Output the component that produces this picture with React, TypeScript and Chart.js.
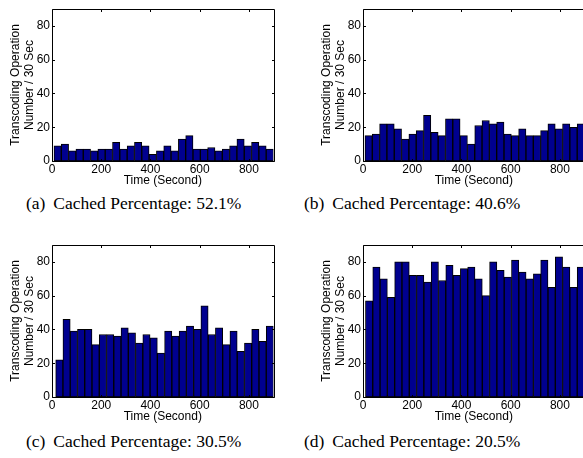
import React, { useEffect, useRef } from 'react';
import { Chart, registerables } from 'chart.js';

Chart.register(...registerables);

// ---- data ----
const panelLabels = ['(a)', '(b)', '(c)', '(d)'];
const cachedPercentages = ['52.1%', '40.6%', '30.5%', '20.5%'];
const binStartSeconds = [8, 8, 15, 10];
const countsA = [9, 10, 6, 7, 7, 6, 7, 7, 11, 7, 9, 11, 9, 4, 6, 9, 6, 13, 15, 7, 7, 8, 6, 7, 9, 13, 9, 11, 9, 7];
const countsB = [15, 16, 22, 22, 19, 13, 16, 18, 27, 17, 15, 25, 25, 15, 10, 21, 24, 22, 23, 16, 15, 19, 15, 15, 18, 22, 19, 22, 20, 22];
const countsC = [22, 46, 39, 40, 40, 31, 37, 37, 36, 41, 38, 32, 37, 35, 26, 39, 36, 39, 42, 40, 54, 37, 41, 31, 39, 27, 32, 40, 33, 42];
const countsD = [57, 77, 70, 59, 80, 80, 72, 72, 68, 80, 69, 78, 72, 76, 77, 70, 60, 80, 75, 71, 81, 74, 70, 73, 81, 65, 83, 77, 65, 77];
const xTicks = [0, 200, 400, 600, 800];
const yTicks = [0, 20, 40, 60, 80];
const xMax = 900;
const yMax = 90;
const xTitle = 'Time (Second)';
const yTitle = ['Transcoding Operation', 'Number / 30 Sec'];
const captionText = 'Cached Percentage:';

const allCounts = [countsA, countsB, countsC, countsD];

const CANVAS_W = 292;
const CANVAS_H = 190;
const panelPos = [
  { left: 0, top: 0 },
  { left: 311, top: 0 },
  { left: 0, top: 236 },
  { left: 311, top: 236 },
];
const captionPos = [
  { left: 26, top: 193 },
  { left: 304, top: 193 },
  { left: 26, top: 431 },
  { left: 304, top: 431 },
];

const sans = '"Liberation Sans", Arial, Helvetica, sans-serif';
const serif = '"Liberation Serif", "Times New Roman", serif';

const framePlugin = {
  id: 'matlabFrame',
  afterDatasetsDraw(chart: any) {
    const { ctx, chartArea, scales } = chart;
    const l = Math.round(chartArea.left) + 0.5;
    const r = Math.round(chartArea.right) + 0.5;
    const t = Math.round(chartArea.top) + 0.5;
    const b = Math.round(chartArea.bottom) + 0.5;
    const tl = 2.5;
    ctx.save();
    ctx.strokeStyle = '#000';
    ctx.lineWidth = 1;
    ctx.beginPath();
    ctx.rect(l, t, r - l, b - t);
    xTicks.forEach((v) => {
      const px = Math.round(scales.x.getPixelForValue(v)) + 0.5;
      ctx.moveTo(px, b);
      ctx.lineTo(px, b - tl);
      ctx.moveTo(px, t);
      ctx.lineTo(px, t + tl);
    });
    yTicks.forEach((v) => {
      const py = Math.round(scales.y.getPixelForValue(v)) + 0.5;
      ctx.moveTo(l, py);
      ctx.lineTo(l + tl, py);
      ctx.moveTo(r, py);
      ctx.lineTo(r - tl, py);
    });
    ctx.stroke();
    ctx.restore();
  },
};

function Panel({ idx }: { idx: number }) {
  const ref = useRef<HTMLCanvasElement | null>(null);
  useEffect(() => {
    if (!ref.current) return;
    const counts = allCounts[idx];
    const start = binStartSeconds[idx];
    const w = (xMax - start) / counts.length;
    const font = { family: sans, size: 12, lineHeight: 14 / 12 };
    const chart = new Chart(ref.current, {
      type: 'bar',
      data: {
        datasets: [
          {
            data: counts.map((y, i) => ({ x: start + (i + 0.5) * w, y })),
            backgroundColor: '#00008F',
            borderColor: '#000000',
            borderWidth: 1,
            borderSkipped: false,
            barPercentage: 1,
            categoryPercentage: 1,
          } as any,
        ],
      },
      options: {
        animation: false,
        responsive: false,
        maintainAspectRatio: false,
        layout: { padding: { left: 0, top: 9, right: 18.5, bottom: 0 } },
        plugins: { legend: { display: false }, tooltip: { enabled: false } },
        scales: {
          x: {
            type: 'linear',
            min: 0,
            max: xMax,
            offset: false,
            grid: { display: false, drawTicks: false },
            border: { display: false },
            afterBuildTicks: (s: any) => {
              s.ticks = xTicks.map((v) => ({ value: v }));
            },
            afterFit: (s: any) => {
              s.height = 29;
            },
            ticks: { font, color: '#000', padding: 2, maxRotation: 0, autoSkip: false },
            title: { display: true, text: xTitle, font, color: '#000', padding: { top: 0, bottom: 2 } },
          },
          y: {
            type: 'linear',
            min: 0,
            max: yMax,
            grid: { display: false, drawTicks: false },
            border: { display: false },
            afterBuildTicks: (s: any) => {
              s.ticks = yTicks.map((v) => ({ value: v }));
            },
            afterFit: (s: any) => {
              s.width = 52;
            },
            ticks: { font, color: '#000', padding: 2, autoSkip: false },
            title: { display: true, text: yTitle, font, color: '#000', padding: { top: 8.5, bottom: 0 } },
          },
        },
      } as any,
      plugins: [framePlugin],
    });
    return () => chart.destroy();
  }, [idx]);
  return (
    <canvas
      ref={ref}
      width={CANVAS_W}
      height={CANVAS_H}
      style={{
        position: 'absolute',
        left: panelPos[idx].left,
        top: panelPos[idx].top,
        width: CANVAS_W,
        height: CANVAS_H,
      }}
    />
  );
}

export default function App() {
  return (
    <div
      style={{
        position: 'fixed',
        left: 0,
        top: 0,
        width: 583,
        height: 458,
        overflow: 'hidden',
        background: '#fff',
      }}
    >
      {[0, 1, 2, 3].map((i) => (
        <Panel key={i} idx={i} />
      ))}
      {[0, 1, 2, 3].map((i) => (
        <div
          key={'c' + i}
          style={{
            position: 'absolute',
            left: captionPos[i].left,
            top: captionPos[i].top,
            fontFamily: serif,
            fontSize: 17.5,
            lineHeight: '20px',
            whiteSpace: 'nowrap',
            color: '#000',
          }}
        >
          <span style={{ marginRight: 3.5 }}>{panelLabels[i]}</span> {captionText} {cachedPercentages[i]}
        </div>
      ))}
    </div>
  );
}
